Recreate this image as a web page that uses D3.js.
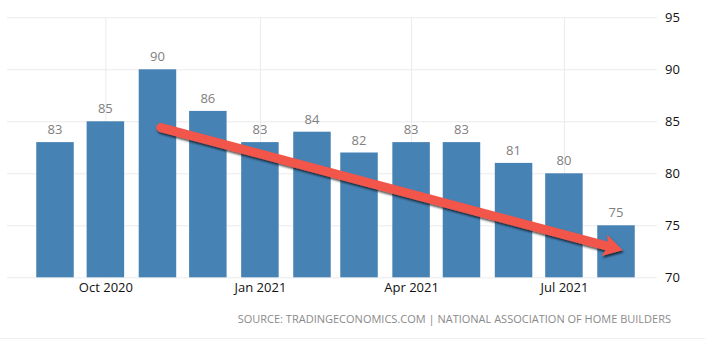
<!DOCTYPE html>
<html><head><meta charset="utf-8">
<script src="https://cdn.jsdelivr.net/npm/d3@7"></script>
<style>
html,body{margin:0;padding:0;background:#fff;}
svg{display:block;}
</style></head>
<body>
<svg id="chart" width="705" height="343"></svg>
<script>
const months = ["2020-09-01","2020-10-01","2020-11-01","2020-12-01","2021-01-01","2021-02-01","2021-03-01","2021-04-01","2021-05-01","2021-06-01","2021-07-01","2021-08-01"];
const values = [83,85,90,86,83,84,82,83,83,81,80,75];
const yTicks = [70,75,80,85,90,95];
const xTickDates = ["2020-10-01","2021-01-01","2021-04-01","2021-07-01"];
const xTickLabels = ["Oct 2020","Jan 2021","Apr 2021","Jul 2021"];
const trendDates = ["2020-11-03","2021-08-05"];
const trendValues = [84.4,72.6];
const sourceText = "SOURCE: TRADINGECONOMICS.COM | NATIONAL ASSOCIATION OF HOME BUILDERS";

const parse = d3.utcParse("%Y-%m-%d");
const svg = d3.select("#chart");
const x = d3.scaleUtc().domain([parse(months[0]), parse(months[months.length-1])]).range([55, 616]);
const y = d3.scaleLinear().domain([70, 95]).range([277.3, 17.3]);
const barW = 37.5;
const gridColor = "#ebebeb";

// horizontal grid + right axis labels
const yAxis = d3.axisRight(y).tickValues(yTicks).tickSize(-650).tickPadding(8).tickFormat(d3.format("d"));
const gy = svg.append("g").attr("transform", "translate(657,0)").call(yAxis);
gy.select(".domain").remove();
gy.selectAll(".tick line").attr("stroke", gridColor);
gy.selectAll(".tick text").attr("fill", "#111").attr("font-family", "'Open Sans', sans-serif").attr("font-size", 13).attr("x", 8);

// vertical grid lines
const xAxis = d3.axisBottom(x).tickValues(xTickDates.map(parse)).tickSize(-260).tickPadding(10)
  .tickFormat((d,i) => xTickLabels[i]);
const gx = svg.append("g").attr("transform", "translate(0,277.3)").call(xAxis);
gx.select(".domain").remove();
gx.selectAll(".tick line").attr("stroke", gridColor);
gx.selectAll(".tick text").attr("fill", "#111").attr("font-family", "'Open Sans', sans-serif").attr("font-size", 13).attr("dy", "0.75em").attr("y", 5);

// bars
svg.append("g").selectAll("rect").data(values).join("rect")
  .attr("x", (d,i) => x(parse(months[i])) - barW/2)
  .attr("width", barW)
  .attr("y", d => y(d))
  .attr("height", d => y(70) - y(d))
  .attr("fill", "#4682b4");

// value labels
svg.append("g").selectAll("text").data(values).join("text")
  .attr("x", (d,i) => x(parse(months[i])))
  .attr("y", d => y(d) - 8)
  .attr("text-anchor", "middle")
  .attr("fill", "#808080")
  .attr("font-family", "'Open Sans', sans-serif")
  .attr("font-size", 13)
  .text(d => d);

// trend arrow
const defs = svg.append("defs");
const f = defs.append("filter").attr("id", "sh").attr("x", "-10%").attr("y", "-50%").attr("width", "120%").attr("height", "200%");
f.append("feDropShadow").attr("dx", 1).attr("dy", 2).attr("stdDeviation", 1.3).attr("flood-color", "#000").attr("flood-opacity", 0.7);

const p0 = [x(parse(trendDates[0])), y(trendValues[0])];
const p1 = [x(parse(trendDates[1])), y(trendValues[1])];
const dx = p1[0]-p0[0], dy = p1[1]-p0[1], len = Math.hypot(dx,dy);
const u = [dx/len, dy/len], n = [-u[1], u[0]];
const headL = 19, headW = 11, notch = 4;
const shaftEnd = [p1[0]-u[0]*(headL-notch-1), p1[1]-u[1]*(headL-notch-1)];
const ag = svg.append("g").attr("filter", "url(#sh)");
ag.append("line")
  .attr("x1", p0[0]).attr("y1", p0[1]).attr("x2", shaftEnd[0]).attr("y2", shaftEnd[1])
  .attr("stroke", "#f2574b").attr("stroke-width", 9).attr("stroke-linecap", "round");
const base = [p1[0]-u[0]*headL, p1[1]-u[1]*headL];
const inner = [p1[0]-u[0]*(headL-notch), p1[1]-u[1]*(headL-notch)];
ag.append("path")
  .attr("d", d3.line()([
    p1,
    [base[0]+n[0]*headW, base[1]+n[1]*headW],
    inner,
    [base[0]-n[0]*headW, base[1]-n[1]*headW]
  ]) + "Z")
  .attr("fill", "#f2574b");

// source
svg.append("text")
  .attr("x", 671).attr("y", 323)
  .attr("text-anchor", "end")
  .attr("fill", "#8a8a8a")
  .attr("font-family", "'Open Sans', sans-serif")
  .attr("font-size", 11)
  .text(sourceText);

// bottom separator
svg.append("line").attr("x1", 0).attr("x2", 705).attr("y1", 338.5).attr("y2", 338.5).attr("stroke", "#eeeeee");
</script>
</body></html>
